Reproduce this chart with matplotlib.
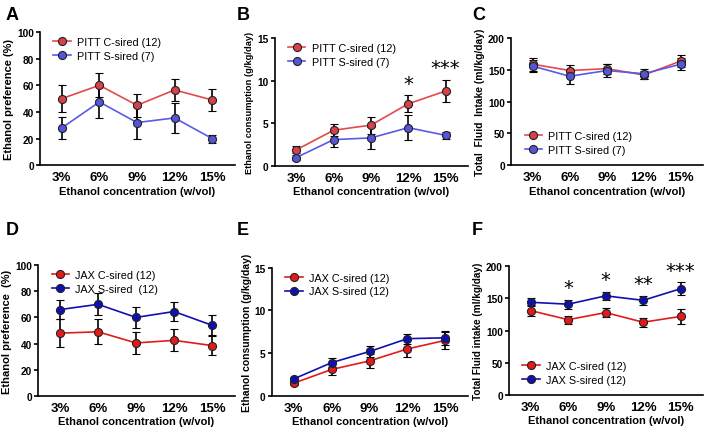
import matplotlib
matplotlib.use("Agg")
import matplotlib.pyplot as plt
from matplotlib.lines import Line2D
import numpy as np

plt.rcParams['font.family'] = ['Liberation Sans', 'DejaVu Sans']

categories = ["3%", "6%", "9%", "12%", "15%"]

# Panel A - PITT ethanol preference
a_c = [50, 60, 45, 56.5, 49]
a_c_err = [10, 9, 8.5, 8, 8]
a_s = [28, 47.5, 32, 35.5, 20]
a_s_err = [8, 12, 12, 11.5, 3]

# Panel B - PITT ethanol consumption
b_c = [1.9, 4.2, 4.8, 7.3, 8.8]
b_c_err = [0.4, 0.7, 1.0, 1.0, 1.3]
b_s = [1.0, 3.1, 3.3, 4.5, 3.6]
b_s_err = [0.3, 0.9, 1.3, 1.5, 0.4]
b_stars = ["", "", "", "*", "***"]

# Panel C - PITT total fluid intake
c_c = [159, 149, 152, 142, 164]
c_c_err = [10, 8, 8, 6, 10]
c_s = [156, 140, 149, 144, 159]
c_s_err = [9, 12, 10, 8, 9]

# Panel D - JAX ethanol preference
d_c = [48, 49, 40.5, 42.5, 38.5]
d_c_err = [10.5, 9.5, 8.5, 8.5, 7]
d_s = [66, 70, 60, 64.5, 54]
d_s_err = [7.5, 8.5, 8, 7, 7.5]

# Panel E - JAX ethanol consumption
e_c = [1.5, 3.1, 4.1, 5.5, 6.5]
e_c_err = [0.2, 0.6, 0.8, 1.0, 1.0]
e_s = [2.0, 3.9, 5.2, 6.7, 6.8]
e_s_err = [0.2, 0.5, 0.7, 0.6, 0.8]

# Panel F - JAX total fluid intake
f_c = [131, 117, 128, 113, 122]
f_c_err = [8, 6, 7, 7, 11]
f_s = [144, 141, 154, 147, 165]
f_s_err = [6, 7, 6, 7, 10]
f_stars = ["", "*", "*", "**", "***"]

PITT_RED = "#e5484d"
PITT_RED_M = "#d8404a"
PITT_BLUE = "#5a5ae6"
PITT_BLUE_M = "#5555d8"
JAX_RED = "#e31a1a"
JAX_BLUE = "#1010b0"

fig = plt.figure(figsize=(7.08, 4.35), dpi=100)

def make_ax(rect):
    ax = fig.add_axes(rect)
    for s in ["top", "right"]:
        ax.spines[s].set_visible(False)
    for s in ["left", "bottom"]:
        ax.spines[s].set_linewidth(1.2)
    return ax

legend_bbox = {"upper left": (0.03, 1.02), "lower left": (0.03, 0.02)}

def plot_panel(ax, c, ce, s, se, labels, colors, ylim, yticks, ylabel, ylsize, legend_loc, stars=None):
    x = np.arange(1, len(categories) + 1)
    handles = []
    for vals, errs, (lc, mc), lab in [(c, ce, colors[0], labels[0]), (s, se, colors[1], labels[1])]:
        ax.errorbar(x, vals, yerr=errs, color=lc, lw=1.2, marker='o', ms=5.8,
                    mfc=mc, mec='#222222', mew=0.8, ecolor='black', elinewidth=1.2,
                    capsize=3, capthick=1.2, zorder=3)
        handles.append(Line2D([], [], color=lc, lw=1.2, marker='o', ms=5.8, mfc=mc,
                              mec='#222222', mew=0.8, label=lab))
    ax.set_xlim(0.42, 5.6)
    ax.set_ylim(*ylim)
    ax.set_yticks(yticks)
    ax.set_xticks(x)
    ax.set_xticklabels(categories, fontsize=9.5, fontweight='bold')
    ax.tick_params(axis='x', length=0, pad=4)
    ax.tick_params(axis='y', length=3, width=1.2, labelsize=7.3, pad=1.5)
    for t in ax.get_yticklabels():
        t.set_fontweight('bold')
    ax.set_xlabel("Ethanol concentration (w/vol)", fontsize=8, fontweight='bold', labelpad=2)
    ax.set_ylabel(ylabel, fontsize=ylsize, fontweight='bold', labelpad=2)
    ax.legend(handles=handles, loc=legend_loc, frameon=False, fontsize=7.8, handlelength=1.6,
              handletextpad=0.6, labelspacing=0.35, borderaxespad=0.3,
              bbox_to_anchor=legend_bbox.get(legend_loc))
    if stars is not None:
        use_s = max(s) > max(c)
        top = [v + e for v, e in zip(s if use_s else c, se if use_s else ce)]
        for xi, st, t in zip(x, stars, top):
            if st:
                ax.text(xi, t + (ylim[1] - ylim[0]) * 0.02, st, ha='center', va='bottom',
                        fontsize=14, family='DejaVu Sans')

axA = make_ax([0.0565, 0.618, 0.275, 0.306])
plot_panel(axA, a_c, a_c_err, a_s, a_s_err, ["PITT C-sired (12)", "PITT S-sired (7)"],
           [(PITT_RED, PITT_RED_M), (PITT_BLUE, PITT_BLUE_M)], (0, 100), [0, 20, 40, 60, 80, 100],
           "Ethanol preference (%)", 8, "upper left")

axB = make_ax([0.388, 0.616, 0.273, 0.294])
plot_panel(axB, b_c, b_c_err, b_s, b_s_err, ["PITT C-sired (12)", "PITT S-sired (7)"],
           [(PITT_RED, PITT_RED_M), (PITT_BLUE, PITT_BLUE_M)], (0, 15), [0, 5, 10, 15],
           "Ethanol consumption (g/kg/day)", 6.7, "upper left", stars=b_stars)

axC = make_ax([0.722, 0.618, 0.271, 0.292])
plot_panel(axC, c_c, c_c_err, c_s, c_s_err, ["PITT C-sired (12)", "PITT S-sired (7)"],
           [(PITT_RED, PITT_RED_M), (PITT_BLUE, PITT_BLUE_M)], (0, 200), [0, 50, 100, 150, 200],
           "Total  Fluid  Intake (ml/kg/day)", 7.4, "lower left")

axD = make_ax([0.0537, 0.0874, 0.278, 0.301])
plot_panel(axD, d_c, d_c_err, d_s, d_s_err, ["JAX C-sired (12)", "JAX S-sired  (12)"],
           [(JAX_RED, JAX_RED), (JAX_BLUE, JAX_BLUE)], (0, 100), [0, 20, 40, 60, 80, 100],
           "Ethanol preference  (%)", 8, "upper left")

axE = make_ax([0.384, 0.0874, 0.277, 0.295])
plot_panel(axE, e_c, e_c_err, e_s, e_s_err, ["JAX C-sired (12)", "JAX S-sired (12)"],
           [(JAX_RED, JAX_RED), (JAX_BLUE, JAX_BLUE)], (0, 15), [0, 5, 10, 15],
           "Ethanol consumption (g/kg/day)", 7.5, "upper left")

axF = make_ax([0.719, 0.0897, 0.274, 0.296])
plot_panel(axF, f_c, f_c_err, f_s, f_s_err, ["JAX C-sired (12)", "JAX S-sired (12)"],
           [(JAX_RED, JAX_RED), (JAX_BLUE, JAX_BLUE)], (0, 200), [0, 50, 100, 150, 200],
           "Total Fluid intake (ml/kg/day)", 7.2, "lower left", stars=f_stars)

for lab, (fx, fy) in zip("ABCDEF", [(0.008, 0.985), (0.335, 0.985), (0.667, 0.985),
                                    (0.008, 0.49), (0.335, 0.49), (0.667, 0.49)]):
    fig.text(fx, fy, lab, fontsize=13, fontweight='bold', ha='left', va='top')

fig.savefig("out.png", dpi=100)
